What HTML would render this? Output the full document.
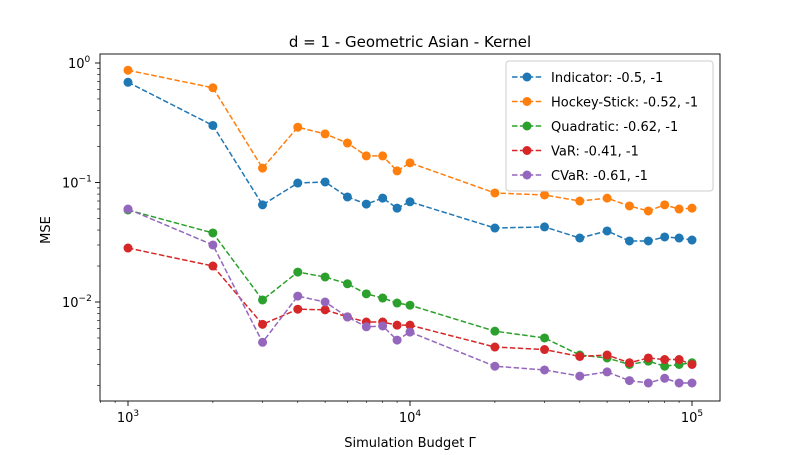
<!DOCTYPE html>
<html><head><meta charset="utf-8"><style>
body{margin:0;background:#fff;}
svg text{font-family:"DejaVu Sans","Liberation Sans",sans-serif;fill:#000;}
</style></head><body>
<svg id="c" width="800" height="450" xmlns="http://www.w3.org/2000/svg">
<rect width="800" height="450" fill="#fff"/>
<text x="410" y="47" font-size="15" text-anchor="middle">d = 1 - Geometric Asian - Kernel</text>
<text x="410" y="447" font-size="13" text-anchor="middle">Simulation Budget Γ</text>
<text x="50" y="230" font-size="13" text-anchor="middle" transform="rotate(-90 50 230)">MSE</text>
<g id="ax"></g><g id="ser"></g><g id="leg"></g>
<rect x="100" y="54" width="620" height="347" fill="none" stroke="#000" stroke-width="0.9"/>
</svg>
<script>
const budgets=[1000,2000,3000,4000,5000,6000,7000,8000,9000,10000,20000,30000,40000,50000,60000,70000,80000,90000,100000];
const indicator=[0.69,0.30,0.065,0.099,0.101,0.0757,0.066,0.074,0.061,0.069,0.0416,0.0425,0.0343,0.0393,0.0324,0.0324,0.035,0.0343,0.033];
const hockey=[0.87,0.62,0.132,0.29,0.255,0.214,0.167,0.167,0.125,0.146,0.0817,0.0786,0.07,0.074,0.0636,0.0578,0.065,0.06,0.061];
const quadratic=[0.0589,0.0378,0.0104,0.0178,0.0162,0.0142,0.0117,0.0108,0.0098,0.0094,0.0057,0.005,0.0036,0.0034,0.003,0.0032,0.0029,0.003,0.0031];
const varS=[0.0283,0.02,0.0065,0.0087,0.0086,0.0075,0.0068,0.0068,0.0064,0.0064,0.0042,0.004,0.0035,0.0036,0.0031,0.0034,0.0033,0.0033,0.003];
const cvar=[0.06,0.03,0.0046,0.0112,0.01,0.0075,0.0062,0.0063,0.0048,0.0056,0.0029,0.0027,0.0024,0.0026,0.0022,0.0021,0.0023,0.0021,0.0021];
const seriesNames=["Indicator: -0.5, -1","Hockey-Stick: -0.52, -1","Quadratic: -0.62, -1","VaR: -0.41, -1","CVaR: -0.61, -1"];
const xTickLabels=["3","4","5"];
const yTickLabels=["-2","-1","0"];
const colors=["#1f77b4","#ff7f0e","#2ca02c","#d62728","#9467bd"];
const NS="http://www.w3.org/2000/svg";
const X=v=>128+282*(Math.log10(v)-3);
const Y=v=>63-119.5*Math.log10(v);
function mk(t,a,p){const e=document.createElementNS(NS,t);for(const k in a)e.setAttribute(k,a[k]);p.appendChild(e);return e;}
const ax=document.getElementById('ax');
// x ticks
for(let d=2;d<=5;d++)for(let m=1;m<10;m++){const v=m*Math.pow(10,d);const x=X(v);if(x<100||x>720)continue;
 const t=mk('line',{x1:x,x2:x,y1:401,y2:m==1?406:403,stroke:'#000','stroke-width':m==1?0.9:0.6},ax);
 }
xTickLabels.forEach(s=>{const x=X(Math.pow(10,+s));const g=mk('text',{x:x,y:422,'font-size':13,'text-anchor':'middle'},ax);
 
 g.textContent='10';const sp=mk('tspan',{dy:-6,'font-size':9},g);sp.textContent=s;});
for(let d=-3;d<=0;d++)for(let m=1;m<10;m++){const v=m*Math.pow(10,d);const y=Y(v);if(y<54||y>401)continue;
 const t=mk('line',{x1:100,x2:m==1?95:97,y1:y,y2:y,stroke:'#000','stroke-width':m==1?0.9:0.6},ax);
 }
yTickLabels.forEach(s=>{const y=Y(Math.pow(10,+s));const g=mk('text',{x:s=="0"?68:62,y:y+5,'font-size':13,'text-anchor':'start'},ax);
 
 g.textContent='10';const sp=mk('tspan',{dy:-6,'font-size':9},g);sp.textContent=s=="0"?"0":"−"+s.slice(1);});
const ser=document.getElementById('ser');
[indicator,hockey,quadratic,varS,cvar].forEach((arr,i)=>{
 const g=mk('g',{},ser);
 const pts=arr.map((v,j)=>X(budgets[j])+','+Y(v)).join(' ');
 const l=mk('polyline',{points:pts,fill:'none',stroke:colors[i],'stroke-width':1.5,'stroke-dasharray':'5.5,2.4'},g);
 
 arr.forEach((v,j)=>{const c=mk('circle',{cx:X(budgets[j]),cy:Y(v),r:4.5,fill:colors[i]},g);
 });
});
const leg=document.getElementById('leg');
const box=mk('rect',{x:506,y:61,width:207,height:130,rx:3,fill:'#fff','fill-opacity':0.85,stroke:'#ccc'},leg);

seriesNames.forEach((n,i)=>{const y=77+i*24.5;const g=mk('g',{},leg);
 
 mk('line',{x1:512,x2:542,y1:y,y2:y,stroke:colors[i],'stroke-width':1.5,'stroke-dasharray':'5.5,2.4'},g);
 mk('circle',{cx:527,cy:y,r:4.5,fill:colors[i]},g);
 const t=mk('text',{x:551,y:y+5,'font-size':13},g);t.textContent=n;});
</script>
</body></html>
